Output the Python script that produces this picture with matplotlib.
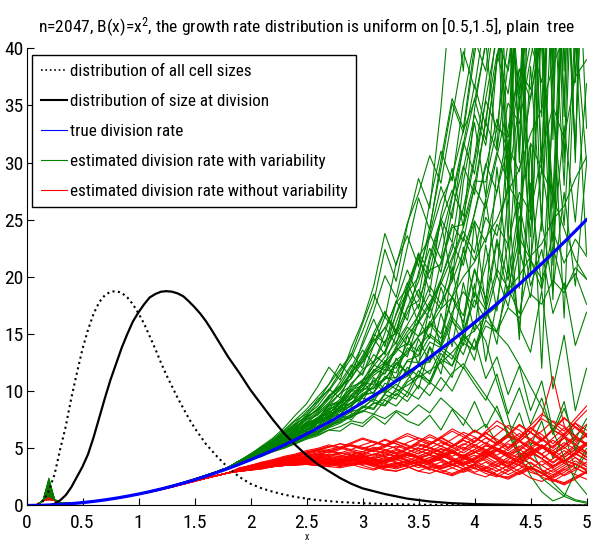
import matplotlib
matplotlib.use('Agg')
import matplotlib.pyplot as plt
from matplotlib import font_manager
from matplotlib.lines import Line2D

# narrow sans face for all texts, if one is around
fonts = font_manager.fontManager.ttflist
names = {f.name for f in fonts}
family, stretch = None, 'normal'
for cand in ['Liberation Sans Narrow', 'DejaVu Sans Condensed', 'Roboto Condensed',
             'Open Sans Condensed', 'Noto Sans Condensed']:
    if cand in names:
        family = cand
        break
if family is None:
    cond = [f.name for f in fonts
            if str(f.stretch) in ('condensed', 'semi-condensed', 'extra-condensed')]
    if cond:
        family = 'DejaVu Sans' if 'DejaVu Sans' in cond else cond[0]
        stretch = 'condensed'
if family is None:
    family = 'DejaVu Sans'
plt.rcParams['font.family'] = [family, 'DejaVu Sans']
plt.rcParams['font.stretch'] = stretch
plt.rcParams['mathtext.default'] = 'regular'

# true division rate B(x)=x^2 on a 0.1 grid
x_blue = [0, 0.1, 0.2, 0.3, 0.4, 0.5, 0.6, 0.7, 0.8, 0.9, 1.0, 1.1, 1.2, 1.3, 1.4, 1.5, 1.6,
          1.7, 1.8, 1.9, 2.0, 2.1, 2.2, 2.3, 2.4, 2.5, 2.6, 2.7, 2.8, 2.9, 3.0, 3.1, 3.2, 3.3,
          3.4, 3.5, 3.6, 3.7, 3.8, 3.9, 4.0, 4.1, 4.2, 4.3, 4.4, 4.5, 4.6, 4.7, 4.8, 4.9, 5.0]
b_true = [0, 0.01, 0.04, 0.09, 0.16, 0.25, 0.36, 0.49, 0.64, 0.81, 1, 1.21, 1.44, 1.69, 1.96,
          2.25, 2.56, 2.89, 3.24, 3.61, 4, 4.41, 4.84, 5.29, 5.76, 6.25, 6.76, 7.29, 7.84, 8.41,
          9, 9.61, 10.24, 10.89, 11.56, 12.25, 12.96, 13.69, 14.44, 15.21, 16, 16.81, 17.64,
          18.49, 19.36, 20.25, 21.16, 22.09, 23.04, 24.01, 25]

# distribution of all cell sizes (scaled)
x_all = [0, 0.1, 0.15, 0.2, 0.25, 0.3, 0.35, 0.4, 0.45, 0.5, 0.55, 0.6, 0.65, 0.7, 0.75, 0.8,
         0.85, 0.9, 0.95, 1.0, 1.05, 1.1, 1.15, 1.2, 1.25, 1.3, 1.35, 1.4, 1.45, 1.5, 1.6, 1.7,
         1.8, 1.9, 2.0, 2.1, 2.2, 2.3, 2.4, 2.5, 2.6, 2.8, 3.0, 3.2, 3.5, 4.0, 4.5, 5.0]
all_sizes = [0, 0.05, 0.4, 1.3, 2.7, 4.9, 6.9, 9.4, 11.6, 13.7, 15.4, 16.8, 17.8, 18.4, 18.7,
             18.75, 18.6, 18.2, 17.6, 16.8, 15.9, 14.8, 13.7, 12.5, 11.4, 10.4, 9.4, 8.5, 7.6,
             6.8, 5.4, 4.3, 3.3, 2.5, 1.9, 1.5, 1.2, 0.95, 0.75, 0.6, 0.47, 0.3, 0.2, 0.13,
             0.07, 0.03, 0.01, 0]

# distribution of size at division (scaled)
x_div = [0, 0.2, 0.25, 0.3, 0.35, 0.4, 0.45, 0.5, 0.55, 0.6, 0.65, 0.7, 0.75, 0.8, 0.85, 0.9,
         0.95, 1.0, 1.05, 1.1, 1.15, 1.2, 1.25, 1.3, 1.35, 1.4, 1.45, 1.5, 1.55, 1.6, 1.65,
         1.7, 1.8, 1.9, 2.0, 2.1, 2.2, 2.3, 2.4, 2.5, 2.6, 2.7, 2.8, 2.9, 3.0, 3.2, 3.4, 3.6,
         3.8, 4.0, 4.5, 5.0]
div_sizes = [0, 0, 0.15, 0.45, 0.9, 1.6, 2.5, 3.4, 4.5, 6.0, 7.7, 9.4, 11.0, 12.4, 13.8, 15.0,
             16.1, 16.9, 17.6, 18.2, 18.5, 18.7, 18.75, 18.7, 18.55, 18.3, 17.85, 17.35, 16.8,
             16.15, 15.4, 14.6, 13.0, 11.6, 10.1, 8.8, 7.5, 6.3, 5.3, 4.4, 3.6, 3.0, 2.4, 1.9,
             1.5, 1.0, 0.6, 0.35, 0.2, 0.12, 0.03, 0]

# estimated rates: common start of the curves (index 4 is the small-size spike)
x_early = [0, 0.05, 0.1, 0.15, 0.2, 0.25, 0.3, 0.4, 0.5, 0.6, 0.7, 0.8, 0.9, 1.0, 1.1, 1.2,
           1.3, 1.4, 1.5, 1.6, 1.7, 1.8]
green_early = [0, 0, 0.05, 0.5, 0, 0.5, 0.25, 0.2, 0.27, 0.38, 0.5, 0.65, 0.82, 1.0, 1.22,
               1.46, 1.72, 2.0, 2.3, 2.62, 2.96, 3.33]
red_early = [0, 0, 0.1, 0.45, 0, 0.45, 0.25, 0.2, 0.26, 0.36, 0.48, 0.63, 0.8, 0.98, 1.18,
             1.4, 1.63, 1.88, 2.13, 2.38, 2.62, 2.85]
green_spike = [1.2, 2.4, 0.8, 1.6, 2.0, 0.6, 1.4, 2.2, 1.0, 1.8, 0.7, 1.5, 2.3, 1.1, 0.9,
               1.9, 1.3, 0.5, 2.1, 1.7, 1.0, 1.4, 0.8, 2.0, 1.2, 1.6, 0.9, 1.1, 1.8, 0.6,
               1.3, 0.7, 2.0, 1.5, 0.9, 1.7, 1.1, 2.2, 0.8, 1.4, 1.9, 1.0, 1.6, 1.2]
red_spike = [1.0, 1.8, 0.6, 1.3, 1.6, 0.5, 1.2, 1.9, 0.8, 1.4, 0.7, 1.1, 1.7, 0.9, 1.5,
             0.6, 1.2, 1.0, 1.6, 0.8, 1.3, 0.7, 1.1, 1.4, 0.9, 1.8, 0.5, 1.2, 1.0, 1.5,
             1.1, 0.7, 1.5, 0.9, 1.3, 1.7, 0.8, 1.2, 1.4, 0.6]

x_late = [1.9, 2.0, 2.1, 2.2, 2.3, 2.4, 2.5, 2.6, 2.7, 2.8, 2.9, 3.0, 3.1, 3.2, 3.3, 3.4,
          3.5, 3.6, 3.7, 3.8, 3.9, 4.0, 4.1, 4.2, 4.3, 4.4, 4.5, 4.6, 4.7, 4.8, 4.9, 5.0]

# estimated division rate with variability, one row per tree
green_late = [
    [3.7, 4.2, 4.6, 5.1, 5.5, 6.3, 6.6, 7.4, 7.9, 8.6, 9.5, 10.2, 11.4, 12.1, 13.6, 14.2, 16.0, 17.5, 19.8, 22.4, 26.0, 30.5, 37.0, 44, 52, 31, 60, 70, 38, 80, 46, 90],
    [3.8, 4.1, 4.8, 5.0, 5.9, 6.1, 7.0, 7.3, 8.4, 8.9, 10.1, 10.5, 12.3, 11.8, 13.9, 15.6, 14.8, 17.2, 19.5, 18.2, 21.6, 24.9, 23.0, 27.5, 31.4, 29.2, 35.8, 41, 26, 46, 55, 62],
    [3.6, 4.0, 4.4, 4.8, 5.2, 5.6, 6.1, 6.5, 6.9, 7.5, 7.7, 8.6, 8.4, 9.7, 9.3, 10.8, 11.4, 10.9, 12.8, 12.2, 14.2, 13.6, 15.7, 15.2, 17.3, 16.4, 18.5, 17.6, 19.7, 18.6, 20.8, 19.8],
    [3.9, 4.4, 4.7, 5.4, 5.7, 6.6, 7.2, 7.6, 8.8, 9.1, 10.7, 11.6, 13.2, 12.4, 14.9, 16.8, 18.9, 17.0, 21.3, 24.6, 23.1, 28.0, 33.5, 31.0, 38.6, 45, 25, 50, 58, 34, 66, 72],
    [3.6, 4.0, 4.3, 4.7, 5.0, 5.4, 5.8, 6.1, 6.6, 6.9, 7.4, 7.2, 8.0, 7.6, 8.3, 7.9, 8.8, 8.1, 9.4, 8.5, 7.6, 6.4, 7.1, 5.5, 6.3, 4.2, 5.0, 3.1, 2.0, 1.0, 0.5, 0.3],
    [3.8, 4.2, 4.9, 5.3, 6.0, 6.7, 7.5, 7.9, 8.9, 9.8, 11.2, 12.5, 14.0, 15.6, 14.1, 17.3, 19.6, 22.5, 20.4, 25.8, 29.7, 27.2, 33.8, 39.5, 36.0, 44, 51, 29, 58, 63, 40, 78],
    [3.6, 4.1, 4.4, 5.0, 5.4, 5.9, 6.3, 7.2, 7.5, 8.2, 8.7, 9.6, 9.9, 11.3, 10.8, 12.7, 13.1, 14.8, 14.0, 16.5, 15.2, 18.6, 17.1, 20.7, 19.0, 23.4, 21.5, 19.8, 22.6, 18.9, 20.3, 17.6],
    [3.8, 4.3, 4.8, 5.5, 6.2, 6.8, 7.7, 8.4, 9.6, 10.5, 12.1, 14.0, 16.3, 13.9, 17.8, 20.6, 18.2, 23.7, 27.9, 25.1, 31.6, 36.8, 33.2, 42, 48, 22, 56, 61, 33, 68, 74, 80],
    [3.7, 4.0, 4.4, 4.7, 5.1, 5.4, 5.9, 6.2, 6.6, 6.5, 7.2, 6.9, 7.8, 7.1, 8.2, 7.4, 7.0, 7.9, 6.6, 8.4, 7.0, 9.1, 6.8, 8.7, 6.0, 8.1, 5.2, 7.4, 4.1, 6.3, 3.2, 5.0],
    [3.9, 4.5, 5.0, 5.6, 6.4, 7.1, 7.8, 9.0, 10.2, 9.4, 11.8, 13.6, 12.4, 15.1, 17.9, 16.2, 20.4, 23.8, 21.6, 26.9, 31.2, 35.6, 32.0, 38.8, 44, 41, 49, 24, 60, 56, 30, 71],
    [3.6, 4.1, 4.6, 5.1, 5.4, 6.2, 6.5, 7.3, 7.8, 8.4, 9.0, 9.8, 10.3, 11.0, 12.4, 11.7, 13.9, 15.0, 14.2, 16.9, 18.7, 17.3, 21.0, 24.6, 22.8, 27.4, 25.6, 30.8, 34.9, 32.1, 37.5, 39.0],
    [3.8, 4.2, 4.7, 5.3, 5.8, 6.5, 7.1, 7.7, 8.5, 9.3, 10.2, 11.0, 12.2, 13.5, 15.3, 14.0, 16.8, 19.2, 17.6, 21.4, 24.0, 22.1, 26.8, 30.9, 28.3, 35.2, 40.5, 37.0, 45, 52, 31, 57],
    [3.7, 4.2, 4.6, 5.0, 5.5, 5.9, 6.4, 6.8, 7.3, 7.9, 7.5, 8.6, 9.3, 8.8, 10.2, 9.5, 11.4, 10.6, 12.8, 14.6, 13.2, 16.0, 14.4, 10.8, 7.6, 4.4, 2.6, 1.2, 0.4, 0.8, 2.9, 4.6],
    [3.9, 4.3, 5.1, 5.7, 6.5, 7.4, 8.0, 9.3, 10.1, 11.7, 13.2, 15.9, 18.5, 16.4, 21.2, 23.6, 20.9, 26.5, 31.0, 28.4, 35.3, 40.8, 38.0, 46, 27, 50, 61, 66, 36, 73, 79, 42],
    [3.6, 4.0, 4.4, 4.8, 5.1, 5.5, 5.9, 6.3, 6.8, 7.2, 7.8, 8.2, 8.9, 9.3, 10.0, 10.5, 11.2, 11.8, 12.5, 13.4, 14.5, 15.3, 16.6, 17.4, 18.9, 20.1, 21.8, 22.9, 25.0, 26.2, 28.6, 30.5],
    [3.8, 4.1, 4.9, 5.2, 6.0, 6.4, 7.3, 7.5, 8.7, 9.0, 10.4, 10.8, 12.6, 13.4, 16.8, 19.5, 17.2, 21.8, 25.1, 23.0, 29.4, 34.2, 31.5, 39.0, 45, 19, 52, 49, 59, 30, 62, 71],
    [3.6, 4.0, 4.4, 4.8, 5.3, 5.6, 6.2, 6.5, 7.0, 7.6, 7.9, 8.7, 8.5, 9.8, 10.6, 9.9, 11.8, 10.8, 13.3, 12.2, 15.1, 13.7, 16.9, 15.2, 19.0, 16.8, 21.5, 18.9, 24.0, 21.2, 23.3, 21.8],
    [3.9, 4.4, 4.9, 5.6, 6.3, 7.0, 7.9, 8.7, 10.0, 11.4, 12.9, 15.2, 17.8, 22.4, 19.6, 24.5, 28.6, 26.0, 34.8, 46, 38, 52, 44, 58, 29, 62, 75, 40, 82, 88, 55, 70],
    [3.6, 4.0, 4.3, 4.8, 5.1, 5.6, 6.0, 6.4, 6.9, 7.4, 7.8, 8.3, 8.0, 9.2, 8.7, 9.9, 9.3, 10.8, 10.0, 11.6, 12.4, 11.0, 9.6, 8.2, 6.4, 4.7, 3.5, 2.4, 1.6, 0.8, 0.4, 0.2],
    [3.8, 4.3, 4.8, 5.4, 6.0, 6.6, 7.3, 8.1, 9.0, 10.3, 11.5, 13.1, 15.0, 14.2, 16.7, 18.8, 22.1, 20.4, 24.9, 27.6, 25.3, 30.1, 35.4, 33.0, 40.6, 47, 26, 53, 60, 35, 65, 70],
    [3.7, 4.2, 4.6, 5.2, 5.7, 6.1, 6.9, 7.4, 8.2, 8.6, 9.6, 10.4, 11.6, 12.3, 13.4, 14.9, 16.1, 17.8, 19.4, 21.7, 24.3, 27.8, 26.0, 30.5, 35.2, 33.4, 39.1, 44, 21, 48, 55, 60],
    [3.9, 4.5, 5.2, 5.9, 6.8, 7.9, 8.9, 10.4, 12.1, 11.0, 13.8, 16.1, 19.2, 23.8, 21.0, 24.7, 27.3, 30.6, 28.2, 33.9, 39.7, 36.5, 43, 49, 28, 54, 60, 34, 64, 70, 45, 75],
    [3.6, 4.0, 4.5, 4.8, 5.3, 5.6, 6.1, 6.3, 7.0, 7.3, 8.0, 8.2, 9.0, 8.7, 9.8, 9.1, 10.5, 9.6, 11.2, 10.0, 12.1, 10.6, 9.2, 11.5, 8.0, 10.3, 7.1, 9.4, 6.2, 8.5, 5.8, 7.6],
    [3.8, 4.3, 4.7, 5.3, 5.9, 6.3, 7.0, 7.6, 8.3, 9.1, 10.0, 10.9, 11.7, 13.0, 14.3, 15.8, 17.6, 16.4, 19.7, 22.9, 21.0, 25.6, 29.9, 27.4, 33.0, 38.2, 35.5, 42, 24, 46, 56, 63],
    [3.7, 4.1, 4.6, 4.9, 5.4, 5.8, 6.3, 6.5, 7.1, 7.6, 8.2, 8.5, 9.4, 10.1, 9.6, 11.0, 12.3, 11.5, 13.6, 12.8, 14.9, 13.7, 16.2, 15.1, 14.0, 12.3, 10.4, 8.6, 6.5, 4.2, 2.2, 1.0],
    [3.9, 4.4, 5.0, 5.5, 6.2, 6.9, 7.6, 8.5, 9.4, 10.8, 12.3, 11.4, 14.0, 16.5, 15.2, 18.4, 21.6, 19.8, 23.4, 27.1, 31.8, 29.0, 35.6, 41, 38, 45, 20, 48, 56, 62, 37, 67],
    [3.6, 4.2, 4.6, 5.0, 5.6, 6.0, 6.6, 7.0, 7.8, 8.3, 9.0, 9.5, 10.5, 11.1, 12.4, 13.3, 14.8, 15.9, 17.7, 19.6, 22.2, 25.5, 29.6, 33.8, 31.0, 37.2, 43, 40, 18, 53, 50, 58],
    [3.8, 4.3, 4.9, 5.4, 6.1, 6.7, 7.5, 8.2, 9.3, 10.1, 11.6, 12.8, 14.7, 16.9, 15.3, 18.6, 20.0, 24.3, 29.5, 35.2, 32.6, 39.4, 46, 42, 51, 30, 54, 63, 69, 38, 74, 81],
    [3.7, 4.2, 4.7, 5.2, 5.6, 6.3, 6.8, 7.5, 8.1, 8.9, 9.7, 10.6, 11.8, 12.5, 13.7, 15.2, 16.6, 18.5, 17.2, 20.1, 23.5, 21.4, 25.2, 23.6, 28.1, 26.3, 31.7, 29.4, 27.0, 24.2, 21.5, 19.8],
    [3.9, 4.4, 5.1, 5.6, 6.4, 7.2, 8.2, 9.1, 10.6, 12.4, 11.2, 14.3, 17.0, 20.1, 18.2, 22.6, 26.9, 24.1, 30.2, 35.6, 33.0, 40.2, 47, 44, 23, 58, 55, 64, 32, 67, 76, 83],
    [3.8, 4.0, 4.7, 4.9, 5.8, 5.9, 7.1, 6.8, 8.2, 7.9, 9.6, 9.0, 11.2, 10.1, 12.9, 11.4, 14.6, 12.5, 16.8, 13.9, 19.5, 15.2, 22.8, 17.0, 27.0, 14.5, 31.5, 12.0, 36.0, 16.4, 41, 22],
    [3.7, 4.3, 4.5, 5.3, 5.4, 6.4, 6.5, 7.7, 7.6, 9.1, 8.6, 10.8, 9.7, 12.7, 10.9, 14.9, 12.3, 17.6, 13.8, 20.9, 15.4, 24.8, 17.6, 29.6, 20.3, 35.4, 23.5, 42, 27, 50, 31, 58],
    [3.6, 4.1, 4.4, 5.0, 5.2, 5.9, 6.0, 6.9, 7.4, 8.7, 8.1, 9.5, 10.9, 9.8, 12.5, 11.6, 10.2, 13.8, 11.5, 16.3, 14.0, 19.4, 12.6, 17.8, 23.0, 15.5, 28.2, 19.0, 34.6, 24.5, 42, 30],
    [3.9, 4.4, 5.0, 5.7, 6.2, 7.1, 7.8, 8.3, 9.6, 10.4, 11.1, 12.9, 14.6, 13.2, 16.0, 18.7, 15.9, 21.4, 24.8, 19.6, 28.3, 33.5, 27.0, 39.0, 46, 35, 52, 30, 58, 44, 66, 50],
    [3.7, 4.1, 4.6, 5.0, 5.6, 5.9, 6.6, 6.9, 7.6, 8.0, 8.8, 9.4, 9.1, 10.7, 10.2, 12.1, 11.3, 13.9, 12.5, 11.2, 14.8, 12.7, 17.5, 14.1, 20.9, 15.6, 13.4, 18.8, 10.2, 14.9, 8.3, 12.0],
    [3.8, 4.2, 4.8, 5.2, 5.9, 6.3, 7.1, 7.4, 8.5, 8.7, 10.0, 10.1, 11.9, 11.5, 13.8, 13.0, 16.2, 14.6, 19.1, 16.3, 22.6, 18.2, 26.8, 20.1, 32.0, 22.5, 38.4, 25.0, 46, 28, 55, 33],
    [3.6, 4.0, 4.5, 4.9, 5.4, 5.8, 6.4, 6.7, 7.3, 7.8, 8.4, 8.9, 9.6, 10.0, 10.8, 11.3, 12.2, 12.6, 13.9, 13.1, 12.0, 14.6, 11.1, 13.0, 9.7, 12.2, 8.3, 10.9, 6.5, 9.1, 4.8, 7.0],
    [3.9, 4.5, 5.1, 5.8, 6.6, 7.5, 8.4, 9.5, 10.6, 11.9, 13.3, 12.0, 15.1, 17.0, 14.9, 19.3, 22.0, 18.6, 25.4, 29.5, 24.3, 34.7, 40.6, 31.2, 47, 36, 54, 42, 61, 48, 68, 53],
    [3.7, 4.2, 4.6, 5.1, 5.6, 6.1, 6.7, 7.2, 7.9, 8.5, 9.3, 10.0, 10.9, 11.6, 12.7, 13.5, 14.8, 15.6, 17.2, 18.2, 20.0, 21.3, 23.4, 25.0, 27.5, 29.4, 32.5, 34.7, 38.5, 41, 45, 48],
    [3.8, 4.3, 4.7, 5.3, 5.7, 6.4, 6.8, 7.7, 8.0, 9.1, 9.3, 10.7, 10.6, 12.4, 12.0, 14.2, 13.5, 16.1, 15.0, 18.3, 16.6, 20.7, 18.1, 23.3, 19.7, 26.4, 21.3, 29.6, 23.1, 33.2, 24.8, 36.9],
    [3.6, 4.1, 4.5, 5.1, 5.5, 6.1, 6.5, 7.2, 7.6, 8.4, 8.7, 9.7, 9.9, 11.1, 11.2, 12.6, 12.5, 14.3, 13.8, 16.1, 15.1, 18.0, 16.3, 20.2, 17.4, 22.5, 18.2, 25.0, 18.8, 27.4, 19.2, 29.9],
    [3.9, 4.4, 5.0, 5.5, 6.3, 6.8, 7.7, 8.4, 9.5, 10.3, 11.7, 12.6, 14.4, 15.5, 17.7, 19.0, 21.7, 23.4, 26.7, 28.8, 32.8, 35.4, 40.3, 43, 49, 52, 60, 48, 66, 57, 72, 62],
    [3.7, 4.2, 4.6, 5.2, 5.6, 6.2, 6.6, 7.4, 7.7, 8.7, 8.9, 10.2, 10.2, 11.9, 11.6, 13.8, 13.1, 15.9, 14.6, 18.2, 16.0, 20.6, 17.3, 23.0, 18.4, 25.3, 19.2, 22.4, 16.8, 19.5, 14.0, 16.9],
    [3.8, 4.2, 4.8, 5.3, 5.9, 6.5, 7.2, 8.0, 8.7, 9.8, 10.5, 11.9, 12.6, 14.4, 15.1, 17.3, 17.9, 20.6, 21.1, 24.3, 24.6, 28.4, 28.3, 33.0, 32.2, 38.1, 36.4, 43.7, 40.8, 49, 45, 55],
]

# estimated division rate without variability, one row per tree
red_late = [
    [3.1, 3.3, 3.5, 3.6, 3.8, 3.9, 4.0, 4.1, 4.0, 4.2, 4.4, 4.3, 4.1, 4.3, 4.6, 4.4, 4.2, 4.5, 4.9, 4.7, 4.3, 4.6, 5.2, 5.0, 4.5, 4.8, 5.5, 5.1, 4.6, 5.0, 5.8, 5.4],
    [3.0, 3.2, 3.3, 3.5, 3.6, 3.6, 3.7, 3.6, 3.5, 3.7, 3.9, 3.8, 3.5, 3.4, 3.7, 3.9, 3.6, 3.3, 3.5, 3.9, 3.7, 3.2, 3.0, 3.4, 3.9, 3.5, 2.9, 2.6, 3.1, 3.7, 3.3, 2.8],
    [3.2, 3.4, 3.6, 3.8, 4.0, 4.2, 4.3, 4.5, 4.7, 4.6, 4.4, 4.7, 5.0, 4.8, 4.5, 4.9, 5.3, 5.0, 4.6, 5.1, 5.7, 5.3, 4.7, 5.4, 6.1, 5.6, 4.9, 5.7, 6.6, 6.0, 5.2, 6.2],
    [3.0, 3.1, 3.3, 3.4, 3.5, 3.7, 3.8, 3.7, 3.9, 4.0, 3.8, 3.6, 3.9, 4.2, 4.0, 3.7, 4.1, 4.4, 4.0, 3.6, 4.2, 4.7, 4.3, 3.7, 3.4, 4.0, 4.6, 4.1, 3.5, 3.9, 4.5, 4.0],
    [3.1, 3.2, 3.4, 3.6, 3.7, 3.8, 3.9, 4.0, 3.8, 3.6, 3.7, 3.9, 3.7, 3.4, 3.2, 3.5, 3.8, 3.5, 3.1, 2.8, 3.2, 3.6, 3.3, 2.7, 2.4, 2.9, 3.4, 2.9, 2.3, 2.0, 2.5, 3.0],
    [3.2, 3.4, 3.7, 3.9, 4.1, 4.3, 4.5, 4.7, 4.9, 5.1, 4.9, 5.3, 5.6, 5.3, 5.0, 5.5, 5.9, 5.6, 5.2, 5.8, 6.4, 6.0, 5.4, 6.2, 7.0, 6.6, 5.8, 6.5, 7.4, 6.9, 6.1, 7.1],
    [3.0, 3.2, 3.4, 3.5, 3.6, 3.8, 3.9, 3.8, 3.6, 3.8, 4.1, 3.9, 3.6, 3.9, 4.3, 4.0, 3.6, 4.0, 4.5, 4.1, 3.6, 4.1, 4.7, 4.2, 3.6, 4.3, 5.0, 4.4, 3.7, 4.4, 5.1, 4.5],
    [3.1, 3.3, 3.5, 3.7, 3.9, 4.1, 4.2, 4.3, 4.5, 4.4, 4.2, 4.5, 4.8, 4.6, 4.3, 4.6, 5.0, 4.8, 4.4, 4.9, 5.4, 5.1, 4.6, 5.3, 6.0, 5.6, 6.4, 7.8, 11.3, 7.0, 5.6, 6.1],
    [3.0, 3.1, 3.2, 3.4, 3.5, 3.5, 3.6, 3.5, 3.4, 3.3, 3.5, 3.7, 3.4, 3.1, 3.0, 3.3, 3.6, 3.2, 2.9, 2.7, 3.1, 3.5, 3.0, 2.6, 2.5, 3.0, 3.4, 2.8, 2.2, 1.9, 2.4, 2.9],
    [3.2, 3.5, 3.7, 3.9, 4.1, 4.3, 4.6, 4.8, 4.6, 4.9, 5.3, 5.0, 4.7, 5.1, 5.6, 5.3, 4.8, 5.3, 5.9, 5.4, 4.9, 5.6, 6.3, 5.8, 5.1, 5.9, 6.8, 6.2, 5.4, 6.3, 7.2, 6.6],
    [3.1, 3.2, 3.4, 3.5, 3.7, 3.8, 3.9, 3.9, 3.8, 3.9, 4.1, 4.2, 4.0, 3.8, 4.1, 4.4, 4.2, 3.9, 4.3, 4.7, 4.4, 4.0, 4.5, 5.0, 4.6, 4.1, 4.7, 5.3, 4.8, 4.2, 4.9, 5.5],
    [3.0, 3.2, 3.3, 3.5, 3.6, 3.7, 3.7, 3.8, 3.9, 3.7, 3.5, 3.8, 4.0, 3.7, 3.4, 3.7, 4.1, 3.8, 3.4, 3.8, 4.3, 3.9, 3.4, 3.0, 3.5, 4.1, 3.7, 3.1, 2.7, 3.3, 3.9, 3.4],
    [3.2, 3.4, 3.6, 3.8, 4.0, 4.1, 4.3, 4.5, 4.4, 4.6, 4.9, 4.7, 4.4, 4.8, 5.2, 4.9, 4.5, 5.0, 5.5, 5.1, 4.6, 5.2, 5.9, 5.4, 4.8, 5.6, 6.4, 5.8, 5.0, 5.9, 6.9, 6.2],
    [3.1, 3.3, 3.4, 3.6, 3.8, 3.9, 4.0, 4.2, 4.1, 4.0, 4.2, 4.4, 4.1, 3.8, 4.1, 4.5, 4.2, 3.8, 4.2, 4.7, 4.3, 3.8, 4.3, 4.9, 4.4, 3.8, 4.5, 5.2, 4.6, 3.9, 4.6, 5.4],
    [3.0, 3.1, 3.3, 3.4, 3.5, 3.6, 3.8, 3.9, 3.7, 3.5, 3.7, 4.0, 3.8, 3.5, 3.3, 3.6, 3.9, 3.6, 3.2, 3.5, 3.9, 3.5, 3.0, 2.7, 3.2, 3.8, 3.3, 2.8, 2.4, 2.9, 3.6, 3.2],
    [3.2, 3.4, 3.6, 3.9, 4.1, 4.4, 4.6, 4.9, 5.2, 5.0, 5.4, 5.8, 5.5, 5.2, 5.7, 6.1, 5.7, 5.3, 5.9, 6.5, 6.0, 5.5, 6.3, 7.0, 6.4, 5.8, 6.7, 7.6, 7.0, 6.2, 7.3, 8.3],
    [3.1, 3.2, 3.4, 3.6, 3.7, 3.9, 4.0, 3.9, 4.1, 4.3, 4.1, 3.9, 4.2, 4.5, 4.3, 3.9, 4.3, 4.7, 4.4, 3.9, 4.4, 4.9, 4.5, 4.0, 4.6, 5.2, 4.7, 4.1, 4.8, 5.5, 4.9, 4.3],
    [3.0, 3.2, 3.3, 3.4, 3.5, 3.6, 3.6, 3.5, 3.6, 3.8, 3.6, 3.3, 3.1, 3.4, 3.7, 3.4, 3.0, 2.8, 3.2, 3.6, 3.2, 2.8, 2.5, 3.0, 3.5, 3.0, 2.4, 2.1, 2.6, 3.2, 2.7, 2.3],
    [3.2, 3.4, 3.7, 3.9, 4.0, 4.2, 4.4, 4.6, 4.8, 4.6, 4.4, 4.7, 5.1, 4.9, 4.6, 5.0, 5.4, 5.1, 4.7, 5.2, 5.7, 5.3, 4.8, 5.5, 6.2, 5.7, 5.1, 5.8, 6.6, 6.1, 5.4, 6.3],
    [3.1, 3.3, 3.5, 3.7, 3.8, 4.0, 4.1, 4.0, 3.9, 4.1, 4.3, 4.1, 3.8, 4.0, 4.4, 4.2, 3.8, 4.2, 4.6, 4.2, 3.7, 4.2, 4.8, 4.3, 3.7, 4.4, 5.1, 4.5, 3.8, 4.5, 5.3, 4.7],
    [3.0, 3.1, 3.2, 3.4, 3.6, 3.7, 3.8, 3.8, 3.7, 3.9, 4.0, 3.8, 3.6, 3.9, 4.2, 3.9, 3.5, 3.9, 4.4, 4.0, 3.5, 4.0, 4.6, 4.1, 3.4, 4.0, 4.7, 4.1, 3.3, 3.9, 4.6, 4.0],
    [3.3, 3.5, 3.8, 4.0, 4.3, 4.5, 4.8, 5.0, 5.3, 5.1, 5.5, 5.9, 5.6, 5.3, 5.8, 6.3, 5.9, 5.4, 6.0, 6.7, 6.2, 5.6, 6.5, 7.4, 6.8, 6.0, 7.0, 8.0, 7.3, 6.5, 7.6, 8.7],
    [3.1, 3.2, 3.4, 3.5, 3.6, 3.7, 3.9, 4.0, 3.8, 3.7, 3.9, 4.1, 3.9, 3.6, 3.4, 3.7, 4.0, 3.7, 3.3, 3.6, 4.1, 3.7, 3.2, 3.6, 4.2, 3.8, 3.2, 2.9, 3.4, 4.0, 3.6, 3.1],
    [3.2, 3.4, 3.6, 3.8, 3.9, 4.1, 4.3, 4.2, 4.4, 4.6, 4.4, 4.2, 4.5, 4.8, 4.5, 4.2, 4.6, 5.0, 4.7, 4.3, 4.8, 5.3, 4.9, 4.4, 5.0, 5.6, 5.1, 4.5, 5.2, 5.9, 5.3, 4.6],
    [3.0, 3.1, 3.3, 3.4, 3.5, 3.6, 3.7, 3.7, 3.6, 3.4, 3.6, 3.8, 3.5, 3.2, 3.0, 3.3, 3.6, 3.2, 2.9, 2.6, 3.0, 3.5, 3.1, 2.6, 2.3, 2.8, 3.3, 2.8, 2.2, 1.8, 2.3, 2.9],
    [3.1, 3.4, 3.6, 3.7, 3.9, 4.1, 4.2, 4.4, 4.3, 4.5, 4.7, 4.5, 4.3, 4.6, 4.9, 4.6, 4.3, 4.7, 5.2, 4.8, 4.3, 4.9, 5.5, 5.0, 4.4, 5.1, 5.8, 5.2, 4.5, 5.3, 6.1, 5.4],
    [3.0, 3.2, 3.4, 3.5, 3.7, 3.8, 3.8, 3.7, 3.8, 4.0, 3.8, 3.6, 3.9, 4.1, 3.8, 3.5, 3.8, 4.2, 3.9, 3.5, 4.0, 4.4, 3.9, 3.4, 4.0, 4.6, 4.1, 3.5, 4.1, 4.8, 4.2, 3.6],
    [3.2, 3.5, 3.7, 4.0, 4.2, 4.4, 4.7, 4.9, 5.1, 5.4, 5.2, 5.0, 5.3, 5.7, 5.4, 5.0, 5.5, 6.0, 5.6, 5.1, 5.8, 6.5, 6.0, 5.3, 6.1, 7.0, 6.4, 5.6, 6.6, 7.6, 6.9, 6.0],
    [3.1, 3.2, 3.3, 3.5, 3.6, 3.8, 3.9, 3.8, 3.7, 3.8, 4.0, 3.9, 3.6, 3.3, 3.6, 3.9, 3.6, 3.2, 2.9, 3.3, 3.7, 3.3, 2.8, 2.5, 3.0, 3.6, 3.1, 2.5, 2.1, 2.7, 3.3, 2.8],
    [3.1, 3.3, 3.5, 3.7, 3.9, 4.0, 4.2, 4.3, 4.2, 4.3, 4.6, 4.4, 4.1, 4.4, 4.8, 4.5, 4.1, 4.5, 5.0, 4.6, 4.1, 4.6, 5.3, 4.8, 4.2, 4.9, 5.7, 5.1, 4.4, 5.2, 6.0, 5.3],
    [3.1, 3.3, 3.4, 3.6, 3.7, 3.8, 4.0, 4.1, 4.3, 4.1, 3.9, 4.2, 4.5, 4.3, 4.0, 4.4, 4.8, 4.5, 4.1, 4.6, 5.1, 4.7, 4.2, 4.8, 5.4, 4.9, 4.3, 5.0, 5.7, 5.1, 4.4, 5.3],
    [3.0, 3.2, 3.3, 3.5, 3.6, 3.7, 3.8, 3.9, 3.7, 3.5, 3.6, 3.9, 3.6, 3.3, 3.5, 3.9, 3.5, 3.1, 3.4, 3.9, 3.4, 2.9, 3.3, 3.9, 3.3, 2.7, 3.2, 3.9, 3.2, 2.6, 3.1, 3.8],
    [3.2, 3.4, 3.7, 3.9, 4.2, 4.4, 4.6, 4.8, 5.1, 5.4, 5.2, 4.9, 5.3, 5.8, 5.4, 5.0, 5.6, 6.2, 5.7, 5.2, 5.9, 6.6, 6.0, 5.4, 6.2, 7.1, 6.4, 5.7, 6.7, 7.7, 6.8, 6.0],
    [3.1, 3.3, 3.5, 3.6, 3.8, 3.9, 4.1, 4.0, 3.8, 4.0, 4.3, 4.0, 3.7, 4.0, 4.4, 4.0, 3.6, 4.0, 4.5, 4.0, 3.5, 4.0, 4.6, 4.0, 3.4, 4.1, 4.8, 4.1, 3.4, 4.2, 4.9, 4.2],
    [3.0, 3.1, 3.3, 3.4, 3.5, 3.6, 3.6, 3.5, 3.4, 3.6, 3.8, 3.5, 3.2, 3.5, 3.8, 3.4, 3.0, 3.4, 3.8, 3.3, 2.9, 3.3, 3.8, 3.2, 2.7, 3.2, 3.8, 3.1, 2.5, 3.1, 3.7, 3.0],
    [3.2, 3.4, 3.6, 3.8, 4.0, 4.3, 4.5, 4.4, 4.7, 5.0, 4.8, 4.5, 4.9, 5.3, 5.0, 4.6, 5.1, 5.6, 5.2, 4.7, 5.3, 5.9, 5.4, 4.8, 5.6, 6.3, 5.7, 5.0, 5.9, 6.8, 6.0, 5.2],
    [3.1, 3.2, 3.4, 3.5, 3.7, 3.8, 3.9, 4.1, 4.0, 3.8, 4.0, 4.2, 4.0, 3.7, 4.0, 4.4, 4.1, 3.7, 4.1, 4.6, 4.2, 3.7, 4.2, 4.8, 4.3, 3.7, 4.4, 5.1, 4.4, 3.7, 4.5, 5.3],
    [3.0, 3.2, 3.4, 3.5, 3.6, 3.8, 3.9, 3.8, 3.6, 3.8, 4.0, 3.7, 3.5, 3.8, 4.1, 3.7, 3.3, 3.7, 4.1, 3.6, 3.2, 3.6, 4.1, 3.5, 3.0, 3.6, 4.2, 3.5, 2.9, 3.5, 4.2, 3.4],
    [3.2, 3.5, 3.7, 3.9, 4.2, 4.4, 4.6, 4.9, 4.8, 5.0, 5.3, 5.1, 4.8, 5.2, 5.6, 5.2, 4.8, 5.4, 6.0, 5.4, 4.9, 5.6, 6.4, 5.6, 5.0, 5.8, 6.8, 5.9, 5.1, 6.1, 7.2, 6.2],
    [3.1, 3.3, 3.4, 3.6, 3.8, 3.9, 4.1, 4.2, 4.1, 3.9, 4.1, 4.3, 4.1, 3.8, 4.2, 4.6, 4.2, 3.8, 4.3, 4.8, 4.3, 3.8, 4.4, 5.0, 4.4, 3.8, 4.6, 5.3, 4.5, 3.8, 4.7, 5.5],
]

title = 'n=2047, B(x)=x$^2$, the growth rate distribution is uniform on [0.5,1.5], plain  tree'
labels = ['distribution of all cell sizes', 'distribution of size at division',
          'true division rate', 'estimated division rate with variability',
          'estimated division rate without variability']

green = '#008000'
fs = 12.3

fig = plt.figure(figsize=(5.93, 5.45), dpi=100)
ax = fig.add_axes([0.0447, 0.0725, 0.9444, 0.839])

x_curve = x_early + x_late
for i in range(max(len(green_late), len(red_late))):
    if i < len(green_late):
        yg = list(green_early)
        yg[4] = green_spike[i]
        ax.plot(x_curve, yg + green_late[i], color=green, lw=0.8)
    if i < len(red_late):
        yr = list(red_early)
        yr[4] = red_spike[i]
        ax.plot(x_curve, yr + red_late[i], color='red', lw=0.8)

ax.plot(x_all, all_sizes, color='k', ls=':', lw=1.5)
ax.plot(x_div, div_sizes, color='k', lw=1.6)
ax.plot(x_blue, b_true, color='blue', lw=2.3)

ax.set_xlim(0, 5)
ax.set_ylim(0, 40)
xt = [0, 0.5, 1, 1.5, 2, 2.5, 3, 3.5, 4, 4.5, 5]
ax.set_xticks(xt)
ax.set_xticklabels(['0', '0.5', '1', '1.5', '2', '2.5', '3', '3.5', '4', '4.5', '5'])
ax.set_yticks(range(0, 41, 5))
ax.tick_params(direction='in', length=5, width=0.8, labelsize=14, top=False, right=False)
ax.tick_params(axis='x', pad=6)
ax.tick_params(axis='y', pad=2)
for side in ('top', 'right'):
    ax.spines[side].set_visible(False)
ax.set_xlabel('x', fontsize=7, labelpad=0)
ax.set_title(title, fontsize=12.6, pad=11)

handles = [Line2D([], [], color='k', ls=':', lw=1.2),
           Line2D([], [], color='k', lw=1.5),
           Line2D([], [], color='blue', lw=0.8),
           Line2D([], [], color=green, lw=0.8),
           Line2D([], [], color='red', lw=0.8)]
leg = ax.legend(handles, labels, loc='upper left', bbox_to_anchor=(0.0098, 0.985),
                borderaxespad=0, fontsize=fs, handlelength=1.55, handletextpad=0.15,
                labelspacing=0.88, borderpad=0.5, fancybox=False, framealpha=1,
                edgecolor='k')
leg.get_frame().set_linewidth(1.0)

fig.savefig('out.png', dpi=100)
